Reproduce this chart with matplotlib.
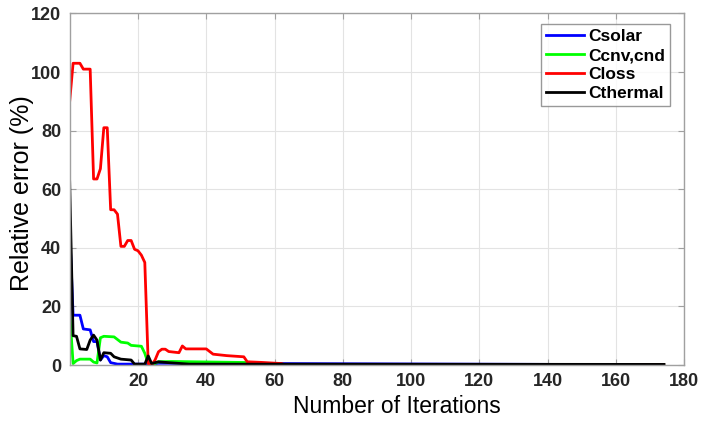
import matplotlib
matplotlib.use("Agg")
import matplotlib.pyplot as plt

# Data
x_solar = [0, 1, 3, 4, 6, 7, 8, 9, 10, 11, 12, 14, 24, 26, 174]
y_solar = [46.5, 17, 17, 12.3, 12, 8, 8, 1.7, 3.2, 2.8, 0.8, 0.3, 0.3, 0.6, 0.1]

x_cnv = [0, 1, 2, 3, 6, 7, 8, 9, 10, 13, 14, 15, 17, 18, 21, 22, 23, 24, 26, 30, 55, 58, 174]
y_cnv = [18, 0.5, 1.5, 2, 2, 1, 0.7, 9.3, 9.8, 9.6, 8.7, 7.8, 7.5, 6.7, 6.4, 4, 0.5, 0, 1.1, 1.2, 0.8, 0.1, 0.1]

x_loss = [0, 1, 3, 4, 6, 7, 8, 9, 10, 11, 12, 13, 14, 15, 16, 17, 18, 19, 20, 21, 22, 23, 24,
          25, 26, 27, 28, 29, 32, 33, 34, 40, 42, 46, 51, 52, 56, 62, 63, 174]
y_loss = [90, 103, 103, 101, 101, 63.5, 63.5, 67, 81, 81, 53, 53, 51.5, 40.5, 40.5, 42.5, 42.5,
          39.5, 39, 37.5, 35, 0.5, 0, 1.7, 4.5, 5.4, 5.4, 4.6, 4.2, 6.5, 5.5, 5.5, 3.7, 3.2, 2.8,
          1.1, 0.9, 0.5, 0.1, 0.1]

x_thermal = [0, 1, 2, 3, 5, 6, 7, 8, 9, 10, 12, 13, 15, 18, 19, 22, 23, 24, 26, 29, 35, 174]
y_thermal = [62.5, 10, 9.8, 5.5, 5.3, 8.5, 10.2, 8.5, 1.7, 4.2, 4, 2.8, 2, 1.7, 0.3, 0.3, 3.1, 0.5, 1.1, 0.8, 0.3, 0.2]

labels = ["Csolar", "Ccnv,cnd", "Closs", "Cthermal"]
colors = ["#0000ff", "#00ff00", "#ff0000", "#000000"]

xticks = [20, 40, 60, 80, 100, 120, 140, 160, 180]
yticks = [0, 20, 40, 60, 80, 100, 120]

plt.rcParams['font.family'] = ['Liberation Sans', 'DejaVu Sans']

fig = plt.figure(figsize=(7.01, 4.21), dpi=100)
ax = fig.add_axes([0.0994, 0.133, 0.8768, 0.835])

series = [(x_solar, y_solar), (x_cnv, y_cnv), (x_loss, y_loss), (x_thermal, y_thermal)]
for (xs, ys), lab, c in zip(series, labels, colors):
    ax.plot(xs, ys, color=c, lw=2.0, label=lab)

ax.set_xlim(0, 180)
ax.set_ylim(0, 120)
ax.set_xticks(xticks)
ax.set_yticks(yticks)
ax.grid(True, color="#e3e3e3", lw=0.8)
ax.set_axisbelow(True)
for s in ax.spines.values():
    s.set_color("#a0a0a0")
    s.set_linewidth(1.0)
ax.tick_params(direction="in", length=4, color="#a0a0a0", top=True, right=True,
               labelsize=13, labelcolor="#262626", pad=6)
for lbl in ax.get_xticklabels() + ax.get_yticklabels():
    lbl.set_fontweight("bold")

ax.set_xlabel("Number of Iterations", fontsize=16.5, color="#000000")
ax.set_ylabel("Relative error (%)", fontsize=18, color="#000000")
ax.xaxis.set_label_coords(0.533, -0.086)
ax.yaxis.set_label_coords(-0.058, 0.489)

leg = ax.legend(loc="upper right", bbox_to_anchor=(0.985, 0.985),
                prop={'weight': 'bold', 'size': 12.5}, frameon=True, fancybox=False,
                edgecolor="#808080", handlelength=2.2, handletextpad=0.2,
                borderpad=0.3, labelspacing=0.22, borderaxespad=0.3)
leg.get_frame().set_linewidth(1.0)

fig.savefig("out.png", dpi=100)
